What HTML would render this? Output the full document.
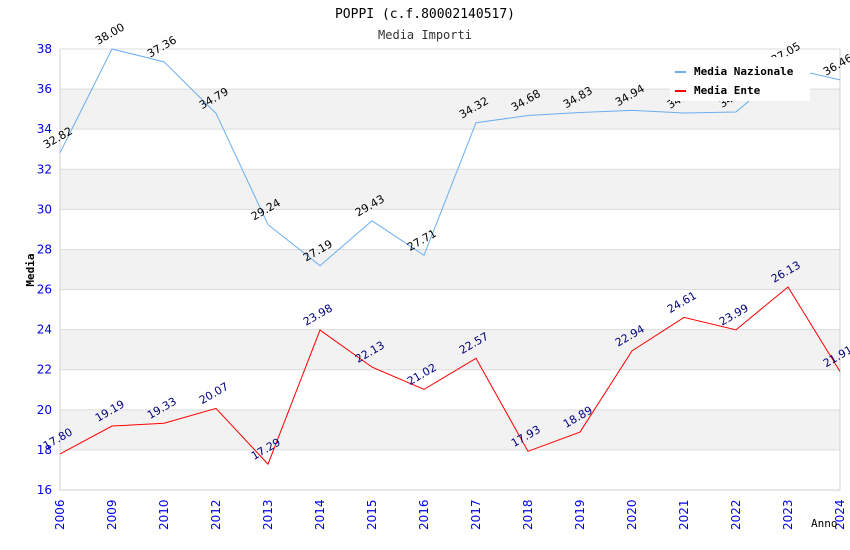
<!DOCTYPE html>
<html><head><meta charset="utf-8"><style>
body{margin:0;background:#fff}
svg{display:block;font-family:"DejaVu Sans Mono","Liberation Mono",monospace}
</style></head><body>
<svg id="chart" width="850" height="550">
<text x="425" y="18" text-anchor="middle" font-size="13" fill="#000">POPPI (c.f.80002140517)</text>
<text x="425" y="39" text-anchor="middle" font-size="12" fill="#333">Media Importi</text>
<g id="bands"></g><g id="grid"></g><g id="axes"></g><g id="series"></g><g id="labels"></g>
<text transform="translate(34,270) rotate(-90)" text-anchor="middle" font-size="11" font-weight="bold">Media</text>
<text x="811" y="527" font-size="11" fill="#000">Anno</text>
<g>
<rect x="670" y="57" width="140" height="44" fill="#fff"/>
<line x1="675" y1="72" x2="686" y2="72" stroke="#6aaef0" stroke-width="2"/>
<text x="694" y="75" font-size="11" font-weight="bold">Media Nazionale</text>
<line x1="675" y1="91" x2="686" y2="91" stroke="#f00" stroke-width="2"/>
<text x="694" y="94" font-size="11" font-weight="bold">Media Ente</text>
</g>
</svg>
<script>
const categories=["2006","2009","2010","2012","2013","2014","2015","2016","2017","2018","2019","2020","2021","2022","2023","2024"];
const nazionale=[32.82,38.00,37.36,34.79,29.24,27.19,29.43,27.71,34.32,34.68,34.83,34.94,34.81,34.86,37.05,36.46];
const ente=[17.80,19.19,19.33,20.07,17.29,23.98,22.13,21.02,22.57,17.93,18.89,22.94,24.61,23.99,26.13,21.91];
const yTicks=[16,18,20,22,24,26,28,30,32,34,36,38];
const L=60,R=840,T=49,B=490,ymin=16,ymax=38;
const NS="http://www.w3.org/2000/svg";
const xs=i=>L+i*(R-L)/(categories.length-1);
const ys=v=>B-(v-ymin)/(ymax-ymin)*(B-T);
function mk(tag,at,parent){const e=document.createElementNS(NS,tag);for(const k in at)e.setAttribute(k,at[k]);document.getElementById(parent).appendChild(e);return e;}
for(let k=0;k<yTicks.length-1;k++){
  if(k%2===1){const b=mk('rect',{x:L,y:ys(yTicks[k+1]),width:R-L,height:ys(yTicks[k])-ys(yTicks[k+1]),fill:'#f2f2f2'},'bands');
  
  }
}
yTicks.forEach(v=>{
  const g=mk('line',{x1:L,x2:R,y1:ys(v),y2:ys(v),stroke:'#dcdcdc'},'grid');
  
  
  const t=mk('text',{x:L-8,y:ys(v)+4,'text-anchor':'end','font-size':12,fill:'#0000ee','font-family':'DejaVu Sans, sans-serif'},'axes');
  t.textContent=v;
  
  
});
const ax=mk('path',{d:`M${L},${T}V${B}H${R}V${T}`,fill:'none',stroke:'#d0d0d0'},'axes');


categories.forEach((c,i)=>{
  const t=mk('text',{transform:`translate(${xs(i)+4},${B+40}) rotate(-90)`,'font-size':12,fill:'#0000ee','font-family':'DejaVu Sans, sans-serif'},'axes');
  t.textContent=c;
  
  
});
function series(vals,color,lblColor,name){
  const p=mk('polyline',{points:vals.map((v,i)=>xs(i)+','+ys(v)).join(' '),fill:'none',stroke:color,'stroke-width':1},'series');
  
  
  vals.forEach((v,i)=>{
    const t=mk('text',{transform:`translate(${xs(i)-14},${ys(v)-4}) rotate(-30)`,'font-size':11,fill:lblColor,'font-family':'DejaVu Sans, sans-serif'},'labels');
    t.textContent=v.toFixed(2);
    
    
  });
}
series(nazionale,'#6aaef0','#000','nazionale');
series(ente,'#ff0000','#000080','ente');
</script>
</body></html>
